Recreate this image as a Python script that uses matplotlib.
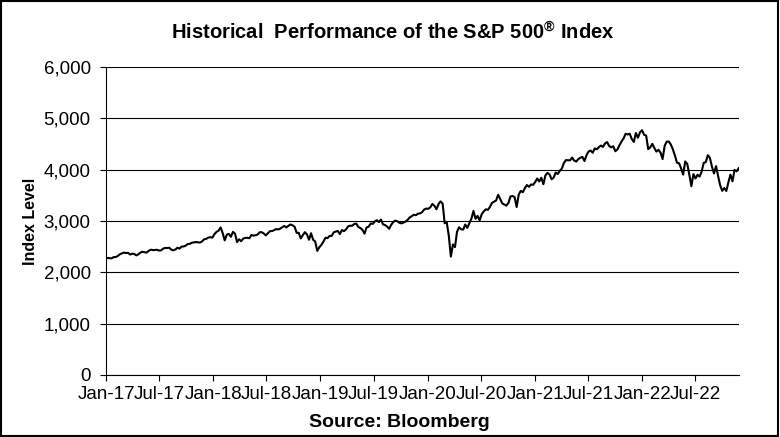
import numpy as np
import pandas as pd
import matplotlib
matplotlib.use("Agg")
import matplotlib.pyplot as plt
import matplotlib.dates as mdates
from matplotlib.ticker import FuncFormatter
from matplotlib.patches import Rectangle

# Weekly (Friday) closes of the S&P 500
closes_2017 = [2277, 2275, 2271, 2295, 2297, 2316, 2351, 2367, 2383, 2373, 2378, 2344, 2363,
               2355, 2329, 2349, 2384, 2399, 2391, 2382, 2416, 2439, 2432, 2433, 2438, 2423,
               2425, 2459, 2473, 2472, 2477, 2441, 2426, 2443, 2477, 2461, 2500, 2502, 2519,
               2549, 2553, 2575, 2581, 2588, 2582, 2579, 2602, 2642, 2651, 2675, 2683, 2674]
closes_2018 = [2743, 2786, 2810, 2873, 2762, 2620, 2732, 2747, 2691, 2786, 2752, 2588, 2641,
               2604, 2656, 2670, 2670, 2663, 2728, 2713, 2721, 2735, 2779, 2780, 2755, 2718,
               2760, 2801, 2802, 2819, 2840, 2833, 2850, 2875, 2902, 2872, 2905, 2930, 2914,
               2886, 2767, 2768, 2659, 2723, 2781, 2736, 2633, 2760, 2633, 2600, 2417, 2486]
closes_2019 = [2532, 2596, 2671, 2665, 2707, 2708, 2776, 2793, 2804, 2743, 2822, 2800, 2834,
               2893, 2907, 2905, 2940, 2946, 2881, 2860, 2826, 2752, 2873, 2887, 2950, 2942,
               2990, 3014, 2977, 3026, 2932, 2919, 2889, 2847, 2926, 2979, 3007, 2992, 2962,
               2952, 2970, 2986, 3023, 3067, 3093, 3120, 3110, 3141, 3146, 3169, 3221, 3240]
closes_2020 = [3235, 3265, 3330, 3295, 3226, 3328, 3380, 3338, 2954, 2972, 2711, 2305, 2541,
               2489, 2790, 2875, 2837, 2831, 2930, 2864, 2955, 3044, 3194, 3041, 3098, 3009,
               3130, 3185, 3225, 3216, 3271, 3351, 3373, 3397, 3508, 3427, 3341, 3319, 3298,
               3348, 3477, 3484, 3465, 3270, 3510, 3585, 3558, 3638, 3699, 3663, 3709, 3703]
closes_2021 = [3756, 3825, 3768, 3841, 3714, 3887, 3935, 3907, 3811, 3842, 3943, 3913, 3975,
               4020, 4129, 4185, 4180, 4181, 4233, 4174, 4156, 4204, 4230, 4247, 4166, 4281,
               4352, 4370, 4327, 4412, 4395, 4437, 4468, 4442, 4509, 4535, 4459, 4433, 4455,
               4357, 4391, 4471, 4545, 4605, 4697, 4683, 4698, 4595, 4538, 4712, 4620, 4726, 4766]
closes_2022 = [4677, 4663, 4398, 4432, 4501, 4419, 4349, 4385, 4329, 4204, 4463, 4543,
               4546, 4488, 4393, 4272, 4132, 4123, 4023, 3901, 4158, 4109, 3901, 3675, 3912,
               3825, 3899, 3863, 3962, 4130, 4145, 4280, 4228, 4058, 3924, 4067, 3873, 3693, 3586,
               3640, 3583, 3752, 3901, 3771, 3993, 3965, 4026]

first_week = "2017-01-06"
y_ticks = [0, 1000, 2000, 3000, 4000, 5000, 6000]

closes = closes_2017 + closes_2018 + closes_2019 + closes_2020 + closes_2021 + closes_2022
dates = pd.date_range(first_week, periods=len(closes), freq="W-FRI")

plt.rcParams['font.family'] = ['Liberation Sans', 'DejaVu Sans']
plt.rcParams['mathtext.fontset'] = 'custom'
plt.rcParams['mathtext.rm'] = 'Liberation Sans'
plt.rcParams['mathtext.bf'] = 'Liberation Sans:bold'

fig = plt.figure(figsize=(7.8, 4.37), dpi=100)
ax = fig.add_axes([0.136, 0.142, 0.811, 0.705])

ax.plot(dates, closes, color='black', linewidth=1.5)

ax.set_ylim(0, 6000)
ax.set_yticks(y_ticks)
ax.yaxis.set_major_formatter(FuncFormatter(lambda v, p: f"{int(v):,}"))
ax.set_xlim(pd.Timestamp("2017-01-01"), dates[-1])
ax.xaxis.set_major_locator(mdates.MonthLocator(bymonth=[1, 7]))
ax.xaxis.set_major_formatter(mdates.DateFormatter('%b-%y'))

ax.grid(axis='y', color='black', linewidth=0.8)
ax.set_axisbelow(True)
for side in ['top', 'right']:
    ax.spines[side].set_visible(False)
ax.spines['left'].set_linewidth(0.8)
ax.spines['bottom'].set_linewidth(0.8)
ax.tick_params(axis='both', direction='out', length=4, width=0.8, labelsize=13.5)
ax.tick_params(axis='x', pad=4)
ax.tick_params(axis='y', pad=7)

ax.set_ylabel('Index Level', fontsize=11.5, fontweight='bold')
ax.yaxis.set_label_coords(-0.108, 0.5)
fig.text(0.512, 0.034, 'Source: Bloomberg', ha='center', va='center',
         fontsize=14, fontweight='bold')
fig.text(0.503, 0.925, 'Historical  Performance of the S&P 500$^{\\mathregular{®}}$ Index',
         ha='center', va='center', fontsize=14.5, fontweight='bold')

# outer frame
fig.patches.append(Rectangle((0.001, 0.002), 0.997, 0.996, transform=fig.transFigure,
                             fill=False, edgecolor='black', linewidth=1.5))

fig.savefig('out.png', dpi=100)
